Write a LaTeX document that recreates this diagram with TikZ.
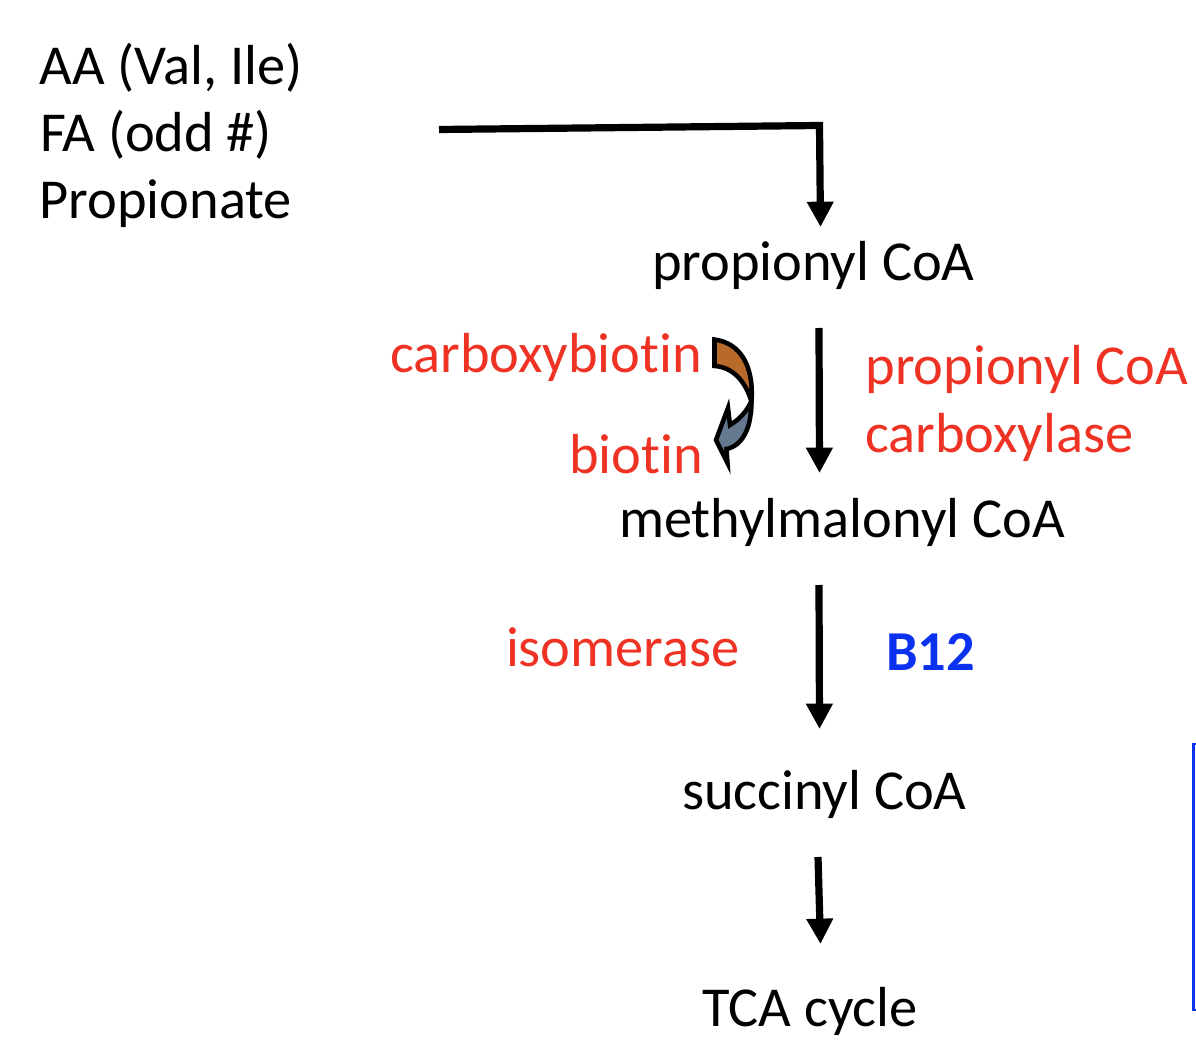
\documentclass[tikz,border=0pt]{standalone}
\usepackage{fontspec}
\setmainfont{Carlito}[RawFeature={-liga}]
\usetikzlibrary{arrows.meta}
\definecolor{enzred}{HTML}{EE3324}
\definecolor{vitblue}{HTML}{0A32F0}
\definecolor{curveorange}{HTML}{B86A2A}
\definecolor{curveslate}{HTML}{64788F}
\tikzset{
  x=0.75pt,y=-0.75pt,
  lbl/.style={anchor=base west,inner sep=0pt,outer sep=0pt,font=\fontsize{42.3}{46}\selectfont},
  enz/.style={lbl,text=enzred},
  vit/.style={lbl,text=vitblue,font=\fontsize{42.3}{46}\selectfont\bfseries},
  flow/.style={draw=black,line width=5.4pt,-{Triangle[width=19pt,length=19pt]}},
  curve/.style={draw=black,line width=3.4pt,line join=miter},
}
\begin{document}
\begin{tikzpicture}
\useasboundingbox (0,0) rectangle (1196,1062);
\node[lbl] (aa) at (39.5,85) {AA (Val, Ile)};
\node[lbl] (fa) at (40,152) {FA (odd \#)};
\node[lbl] (pr) at (39.5,219) {Propionate};
\node[lbl] (pc) at (652,281) {propionyl CoA};
\node[enz] (cb) at (390,373) {carboxybiotin};
\node[enz] (bi) at (569,473.5) {biotin};
\node[enz] (pe1) at (865.5,385) {propionyl CoA};
\node[enz] (pe2) at (865,453) {carboxylase};
\node[lbl] (mm) at (619,537.5) {methylmalonyl CoA};
\node[enz] (is) at (506,666) {isomerase};
\node[vit] (b12) at (886,670) {B12};
\node[lbl] (sc) at (682,809.5) {succinyl CoA};
\node[lbl] (tca) at (702.5,1026) {TCA cycle};
% connector ends
\coordinate (s0) at (439,129.5);
\coordinate (s1) at (819.5,125.5);
\coordinate (e1) at (820.5,227);
\coordinate (s2) at (819,328);
\coordinate (e2) at (819.5,473);
\coordinate (s3) at (819,585);
\coordinate (e3) at (819.5,729);
\coordinate (s4) at (818,857);
\coordinate (e4) at (820.5,944);
\draw[flow] (s0) -- (s1) -- (e1);
\draw[flow] (s2) -- (e2);
\draw[flow] (s3) -- (e3);
\draw[flow] (s4) -- (e4);
% curved arrows
\draw[curve,fill=curveslate] (751,402) .. controls (746,412) and (740,419) .. (730,425)
  -- (728,408) -- (716,440) -- (727.5,463) -- (726.5,449)
  .. controls (742,446) and (752,428) .. (751,402) -- cycle;
\draw[curve,fill=curveorange] (714.5,339.5) .. controls (740,343) and (754,365) .. (751.5,402)
  .. controls (746,382) and (733,367) .. (714.5,366) -- cycle;
% blue box edge
\draw[draw=vitblue,line width=2pt] (1197,744) -- (1193.5,744) -- (1193.5,1010) -- (1197,1010);
\end{tikzpicture}
\end{document}
